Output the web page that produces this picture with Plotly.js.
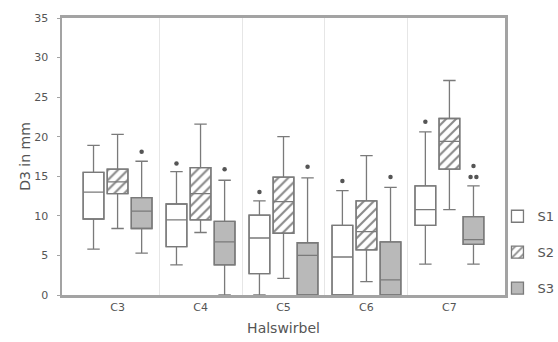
<!DOCTYPE html>
<html>
<head>
<meta charset="utf-8">
<script src="https://cdn.plot.ly/plotly-3.0.1.min.js"></script>
<style>html,body{margin:0;padding:0;background:#fff;}#chart{width:558px;height:342px;}</style>
</head>
<body>
<div id="chart"></div>
<script>
// ---- data ----
const categories = ['C3', 'C4', 'C5', 'C6', 'C7'];
const seriesNames = ['S1', 'S2', 'S3'];

const s1Lower  = [5.8, 3.8, 0.0, 0.0, 3.9];
const s1Q1     = [9.6, 6.1, 2.7, 0.0, 8.8];
const s1Median = [13.0, 9.5, 7.2, 4.8, 10.8];
const s1Q3     = [15.5, 11.5, 10.1, 8.8, 13.8];
const s1Upper  = [18.9, 15.6, 11.9, 13.2, 20.6];

const s2Lower  = [8.4, 7.9, 2.1, 1.7, 10.8];
const s2Q1     = [12.8, 9.5, 7.8, 5.7, 15.9];
const s2Median = [14.3, 12.8, 11.8, 8.0, 19.4];
const s2Q3     = [15.9, 16.1, 14.9, 11.9, 22.3];
const s2Upper  = [20.3, 21.6, 20.0, 17.6, 27.1];

const s3Lower  = [5.3, 0.0, 0.0, 0.0, 3.9];
const s3Q1     = [8.4, 3.8, 0.0, 0.0, 6.4];
const s3Median = [10.6, 6.7, 5.0, 1.9, 7.0];
const s3Q3     = [12.3, 9.3, 6.6, 6.7, 9.9];
const s3Upper  = [16.9, 14.5, 14.8, 13.6, 13.8];

// outliers: category index, value
const s1OutlierCat = [1, 2, 3, 4];
const s1OutlierVal = [16.6, 13.0, 14.4, 21.9];
const s2OutlierCat = [];
const s2OutlierVal = [];
const s3OutlierCat = [0, 1, 2, 3, 4, 4, 4];
const s3OutlierVal = [18.1, 15.9, 16.2, 14.9, 16.3, 14.9, 14.9];
const s3OutlierSide = [0, 0, 0, 0, 0, -1, 1]; // side-by-side ties

const yTickVals = [0, 5, 10, 15, 20, 25, 30, 35];

// ---- styling ----
const offsets = [-0.29, 0, 0.29];
const boxW = 0.25;
const lineCol = '#7a7a7a';
const series = [
  {name: 'S1', lo: s1Lower, q1: s1Q1, med: s1Median, q3: s1Q3, hi: s1Upper, oc: s1OutlierCat, ov: s1OutlierVal, os: s1OutlierCat.map(() => 0),
   marker: {color: '#ffffff', line: {color: lineCol, width: 1.3}}},
  {name: 'S2', lo: s2Lower, q1: s2Q1, med: s2Median, q3: s2Q3, hi: s2Upper, oc: s2OutlierCat, ov: s2OutlierVal, os: [],
   marker: {color: '#ffffff', line: {color: lineCol, width: 1.3}, pattern: {shape: '/', fgcolor: '#8a8a8a', bgcolor: '#ffffff', size: 7, solidity: 0.3}}},
  {name: 'S3', lo: s3Lower, q1: s3Q1, med: s3Median, q3: s3Q3, hi: s3Upper, oc: s3OutlierCat, ov: s3OutlierVal, os: s3OutlierSide,
   marker: {color: '#b9b9b9', line: {color: lineCol, width: 1.3}}}
];

const traces = [];
series.forEach((s, k) => {
  const xs = categories.map((_, i) => i + offsets[k]);
  // box body (bar from q1 to q3) — carries fill / hatch and legend entry
  traces.push({
    type: 'bar', name: s.name, legendgroup: s.name, x: xs,
    base: s.q1, y: s.q3.map((v, i) => v - s.q1[i]),
    width: boxW, marker: s.marker, opacity: 1, hoverinfo: 'skip'
  });
  // whiskers, median, outline
  traces.push({
    type: 'box', name: s.name, legendgroup: s.name, showlegend: false, x: xs,
    q1: s.q1, median: s.med, q3: s.q3, lowerfence: s.lo, upperfence: s.hi,
    width: boxW, whiskerwidth: 0.6, fillcolor: 'rgba(0,0,0,0)',
    line: {color: lineCol, width: 1.3}, boxpoints: false, hoverinfo: 'skip'
  });
  if (s.ov.length) {
    traces.push({
      type: 'scatter', mode: 'markers', name: s.name, legendgroup: s.name, showlegend: false,
      x: s.oc.map((c, j) => c + offsets[k] + s.os[j] * 0.035), y: s.ov,
      marker: {color: '#555555', size: 4.5, symbol: 'circle'}, hoverinfo: 'skip', cliponaxis: false
    });
  }
});

const font = {family: 'DejaVu Sans, Arial, sans-serif', color: '#555555'};

const layout = {
  width: 558, height: 342,
  margin: {l: 62, r: 53, t: 18, b: 47, autoexpand: false},
  paper_bgcolor: '#ffffff', plot_bgcolor: '#ffffff',
  barmode: 'overlay', showlegend: true, hovermode: false,
  font: Object.assign({size: 11}, font),
  xaxis: {
    range: [-0.67, 4.67], tickmode: 'array', tickvals: categories.map((_, i) => i), ticktext: categories,
    showgrid: false, zeroline: false, showline: true, mirror: true, linecolor: '#a3a3a3', linewidth: 3,
    ticks: '', tickfont: Object.assign({size: 11}, font),
    minor: {tickmode: 'array', tickvals: [0.5, 1.5, 2.5, 3.5], showgrid: true, gridcolor: '#e6e6e6', gridwidth: 1, ticks: ''},
    title: {text: 'Halswirbel', font: Object.assign({size: 14}, font), standoff: 10}
  },
  yaxis: {
    range: [0, 35], tickmode: 'array', tickvals: yTickVals,
    showgrid: false, zeroline: false, showline: true, mirror: true, linecolor: '#a3a3a3', linewidth: 2.5,
    ticks: 'outside', ticklen: 3, tickcolor: '#a3a3a3', tickfont: Object.assign({size: 11}, font),
    ticklabelstandoff: 6,
    title: {text: 'D3 in mm', font: Object.assign({size: 14}, font), standoff: 1}
  },
  legend: {
    x: 0.983, xanchor: 'left', y: -0.03, yanchor: 'bottom',
    font: Object.assign({size: 13}, font), tracegroupgap: 16, bgcolor: 'rgba(0,0,0,0)',
    itemwidth: 30
  }
};

Plotly.newPlot('chart', traces, layout, {staticPlot: true, displayModeBar: false});
</script>
</body>
</html>
